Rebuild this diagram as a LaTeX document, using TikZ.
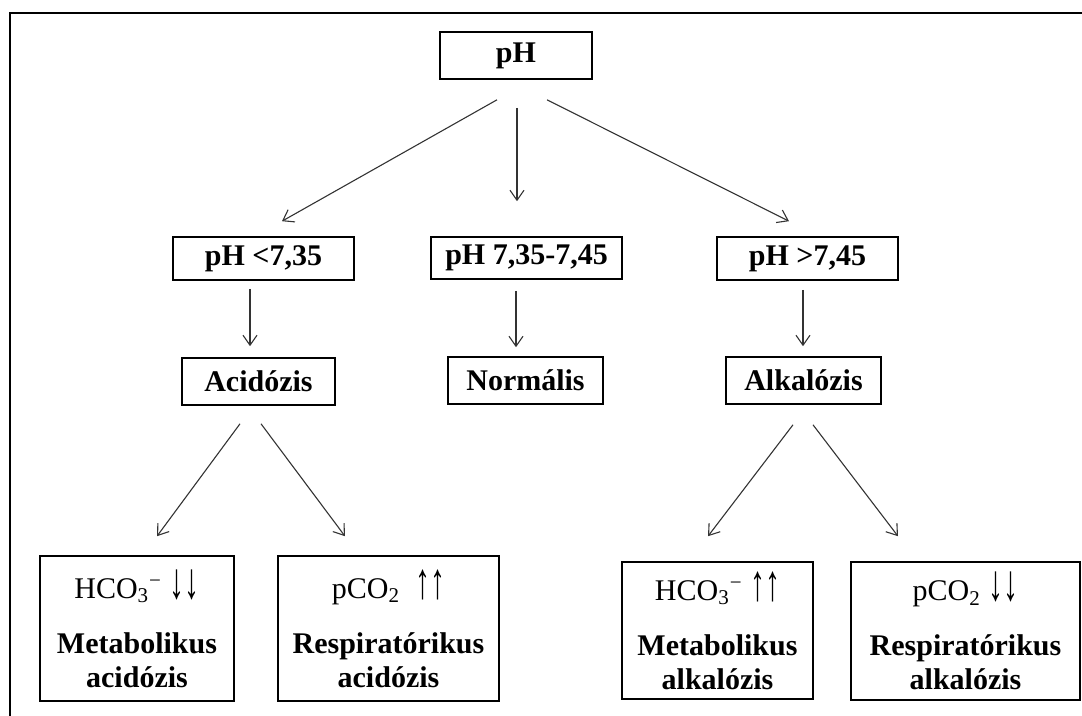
\documentclass[tikz,border=0pt]{standalone}
\usepackage{fontspec}
\setmainfont{Liberation Serif}
\usetikzlibrary{arrows.meta,calc}

\newcommand{\tallarrows}[1]{\scalebox{1}[1.7]{#1}}

\begin{document}
\begin{tikzpicture}[
        x=0.5pt, y=-0.5pt,
        box/.style={draw, line width=0.8pt, inner sep=0pt, font=\fontsize{15}{17}\selectfont\bfseries},
        result/.style={box, align=center},
        arrow/.style={-{Straight Barb[length=5pt,width=7pt]}, line width=0.55pt, draw=black!80},
    ]
    \useasboundingbox (0,0) rectangle (1082,716);
    \draw[line width=1pt] (1082,13) -- (10,13) -- (10,716);

    \node[box, minimum width=76pt, minimum height=23.5pt] (ph) at (516,55.5) {pH};

    \node[box, minimum width=90.5pt, minimum height=21.5pt] (low) at (263.5,258.5) {pH <7,35};
    \node[box, minimum width=95.5pt, minimum height=21pt] (mid) at (526.5,258) {pH 7,35-7,45};
    \node[box, minimum width=90.5pt, minimum height=21.5pt] (high) at (807.5,258.5) {pH >7,45};

    \node[box, minimum width=76.5pt, minimum height=23.5pt] (acid) at (258.5,381.5) {Acidózis};
    \node[box, minimum width=77.5pt, minimum height=23.5pt] (normal) at (525.5,380.5) {Normális};
    \node[box, minimum width=77.5pt, minimum height=23.5pt] (alkal) at (803.5,380.5) {Alkalózis};

    \node[result, minimum width=97pt, minimum height=72.5pt] (metacid) at (137,628.5)
        {{\mdseries HCO\textsubscript{3}\textsuperscript{−} \tallarrows{↓↓}}\\[10.5pt] Metabolikus\\ acidózis};
    \node[result, minimum width=110.5pt, minimum height=72.5pt] (respacid) at (388.5,628.5)
        {{\mdseries pCO\textsubscript{2}~~\tallarrows{↑↑}}\\[10.5pt] Respiratórikus\\ acidózis};
    \node[result, minimum width=95.5pt, minimum height=68.5pt] (metalk) at (717.5,630.5)
        {{\mdseries HCO\textsubscript{3}\textsuperscript{−} \tallarrows{↑↑}}\\[10.5pt] Metabolikus\\ alkalózis};
    \node[result, minimum width=114.5pt, minimum height=69pt] (respalk) at (965.5,631)
        {{\mdseries pCO\textsubscript{2} \tallarrows{↓↓}}\\[10.5pt] Respiratórikus\\ alkalózis};

    \draw[arrow] ($(ph.south)+(-19,20)$) -- ($(low.north)+(18.5,-15)$);
    \draw[arrow] ($(ph.south)+(1,28)$) -- ($(mid.north)+(-9.5,-35)$);
    \draw[arrow] ($(ph.south)+(31,20)$) -- ($(high.north)+(-18.5,-15)$);

    \draw[arrow] ($(low.south)+(-13.5,8)$) -- ($(acid.north)+(-8.5,-11)$);
    \draw[arrow] ($(mid.south)+(-10.5,11)$) -- ($(normal.north)+(-9.5,-9)$);
    \draw[arrow] ($(high.south)+(-4.5,9)$) -- ($(alkal.north)+(-0.5,-10)$);

    \draw[arrow] ($(acid.south)+(-18.5,18)$) -- ($(metacid.north)+(20,-19)$);
    \draw[arrow] ($(acid.south)+(2.5,18)$) -- ($(respacid.north)+(-43.5,-19)$);
    \draw[arrow] ($(alkal.south)+(-10.5,20)$) -- ($(metalk.north)+(-9.5,-25)$);
    \draw[arrow] ($(alkal.south)+(9.5,20)$) -- ($(respalk.north)+(-67.5,-25)$);

\end{tikzpicture}
\end{document}
